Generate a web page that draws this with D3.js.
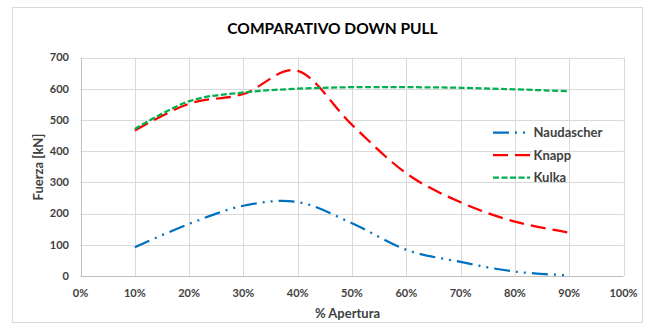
<!DOCTYPE html>
<html><head><meta charset="utf-8">
<script src="https://cdn.jsdelivr.net/npm/d3@7"></script>
<style>body{margin:0;background:#fff;} svg{display:block;font-family:Lato,"Open Sans",sans-serif;}</style>
</head><body><svg id="c" width="655" height="328"></svg>
<script>
const apertura = [10, 20, 30, 40, 50, 60, 70, 80, 90];
const naudascher = [92, 167, 225, 237, 169, 84, 45, 14, 2];
const knapp = [466, 552, 583, 657, 484, 329, 236, 174, 139];
const kulka = [471, 560, 588, 600, 605, 605, 603, 598, 592];
const xTicks = [0,10,20,30,40,50,60,70,80,90,100];
const yTicks = [0,100,200,300,400,500,600,700];
const seriesNames = ["Naudascher", "Knapp", "Kulka"];

const series = [
  {name: seriesNames[0], values: naudascher, color: "#0070C0", dash: "16,6,2,6,2,6"},
  {name: seriesNames[1], values: knapp, color: "#FF0000", dash: "15,7"},
  {name: seriesNames[2], values: kulka, color: "#00B050", dash: "6,2.5"}
];

const svg = d3.select("#c");
svg.append("rect").attr("x",12.5).attr("y",7.5).attr("width",630).attr("height",315)
  .attr("fill","#fff").attr("stroke","#d9d9d9").attr("stroke-width",1);

const x = d3.scaleLinear().domain([0,100]).range([80.5,623.5]);
const y = d3.scaleLinear().domain([0,700]).range([276,57.5]);

const g = svg.append("g");
// gridlines
g.selectAll("line.hg").data(yTicks).join("line")
  .attr("x1",x(0)).attr("x2",x(100)).attr("y1",d=>Math.round(y(d))+0.5).attr("y2",d=>Math.round(y(d))+0.5)
  .attr("stroke",d=>d===0?"#bfbfbf":"#d9d9d9").attr("stroke-width",1);
g.selectAll("line.vg").data(xTicks).join("line")
  .attr("y1",y(0)).attr("y2",y(700)).attr("x1",d=>Math.round(x(d))+0.5).attr("x2",d=>Math.round(x(d))+0.5)
  .attr("stroke",d=>d===0?"#bfbfbf":"#d9d9d9").attr("stroke-width",1);

// tick labels
g.selectAll("text.yl").data(yTicks).join("text")
  .attr("x",69).attr("y",d=>y(d)).attr("dy","0.35em").attr("text-anchor","end")
  .attr("font-size",11).attr("font-weight","bold").attr("fill","#404040").text(d=>d);
g.selectAll("text.xl").data(xTicks).join("text")
  .attr("x",d=>x(d)).attr("y",293.5).attr("dy","0.35em").attr("text-anchor","middle")
  .attr("font-size",11).attr("font-weight","bold").attr("fill","#404040").text(d=>d+"%");

// titles
svg.append("text").attr("x",332.5).attr("y",28.5).attr("dy","0.35em").attr("text-anchor","middle")
  .attr("font-size",15.5).attr("font-weight","bold").attr("fill","#000").text("COMPARATIVO DOWN PULL");
svg.append("text").attr("x",347.5).attr("y",313.5).attr("dy","0.35em").attr("text-anchor","middle")
  .attr("font-size",13).attr("font-weight","bold").attr("fill","#404040").text("% Apertura");
svg.append("text").attr("transform","translate(38,167) rotate(-90)").attr("dy","0.35em").attr("text-anchor","middle")
  .attr("font-size",13).attr("font-weight","bold").attr("fill","#404040").text("Fuerza [kN]");

// lines
const line = d3.line().x((d,i)=>x(apertura[i])).y(d=>y(d)).curve(d3.curveCardinal.tension(0));
g.selectAll("path.s").data(series).join("path")
  .attr("d",d=>line(d.values)).attr("fill","none").attr("stroke",d=>d.color)
  .attr("stroke-width",2.25).attr("stroke-dasharray",d=>d.dash);

// legend
const lg = svg.append("g");
const ly = [132.7, 155, 177.5];
series.forEach((s,i)=>{
  lg.append("line").attr("x1",493).attr("x2",530).attr("y1",ly[i]).attr("y2",ly[i])
    .attr("stroke",s.color).attr("stroke-width",2.25).attr("stroke-dasharray",s.dash);
  lg.append("text").attr("x",533.5).attr("y",ly[i]).attr("dy","0.35em").attr("font-size",13)
    .attr("font-weight","bold").attr("fill","#404040").text(s.name);
});
</script></body></html>
